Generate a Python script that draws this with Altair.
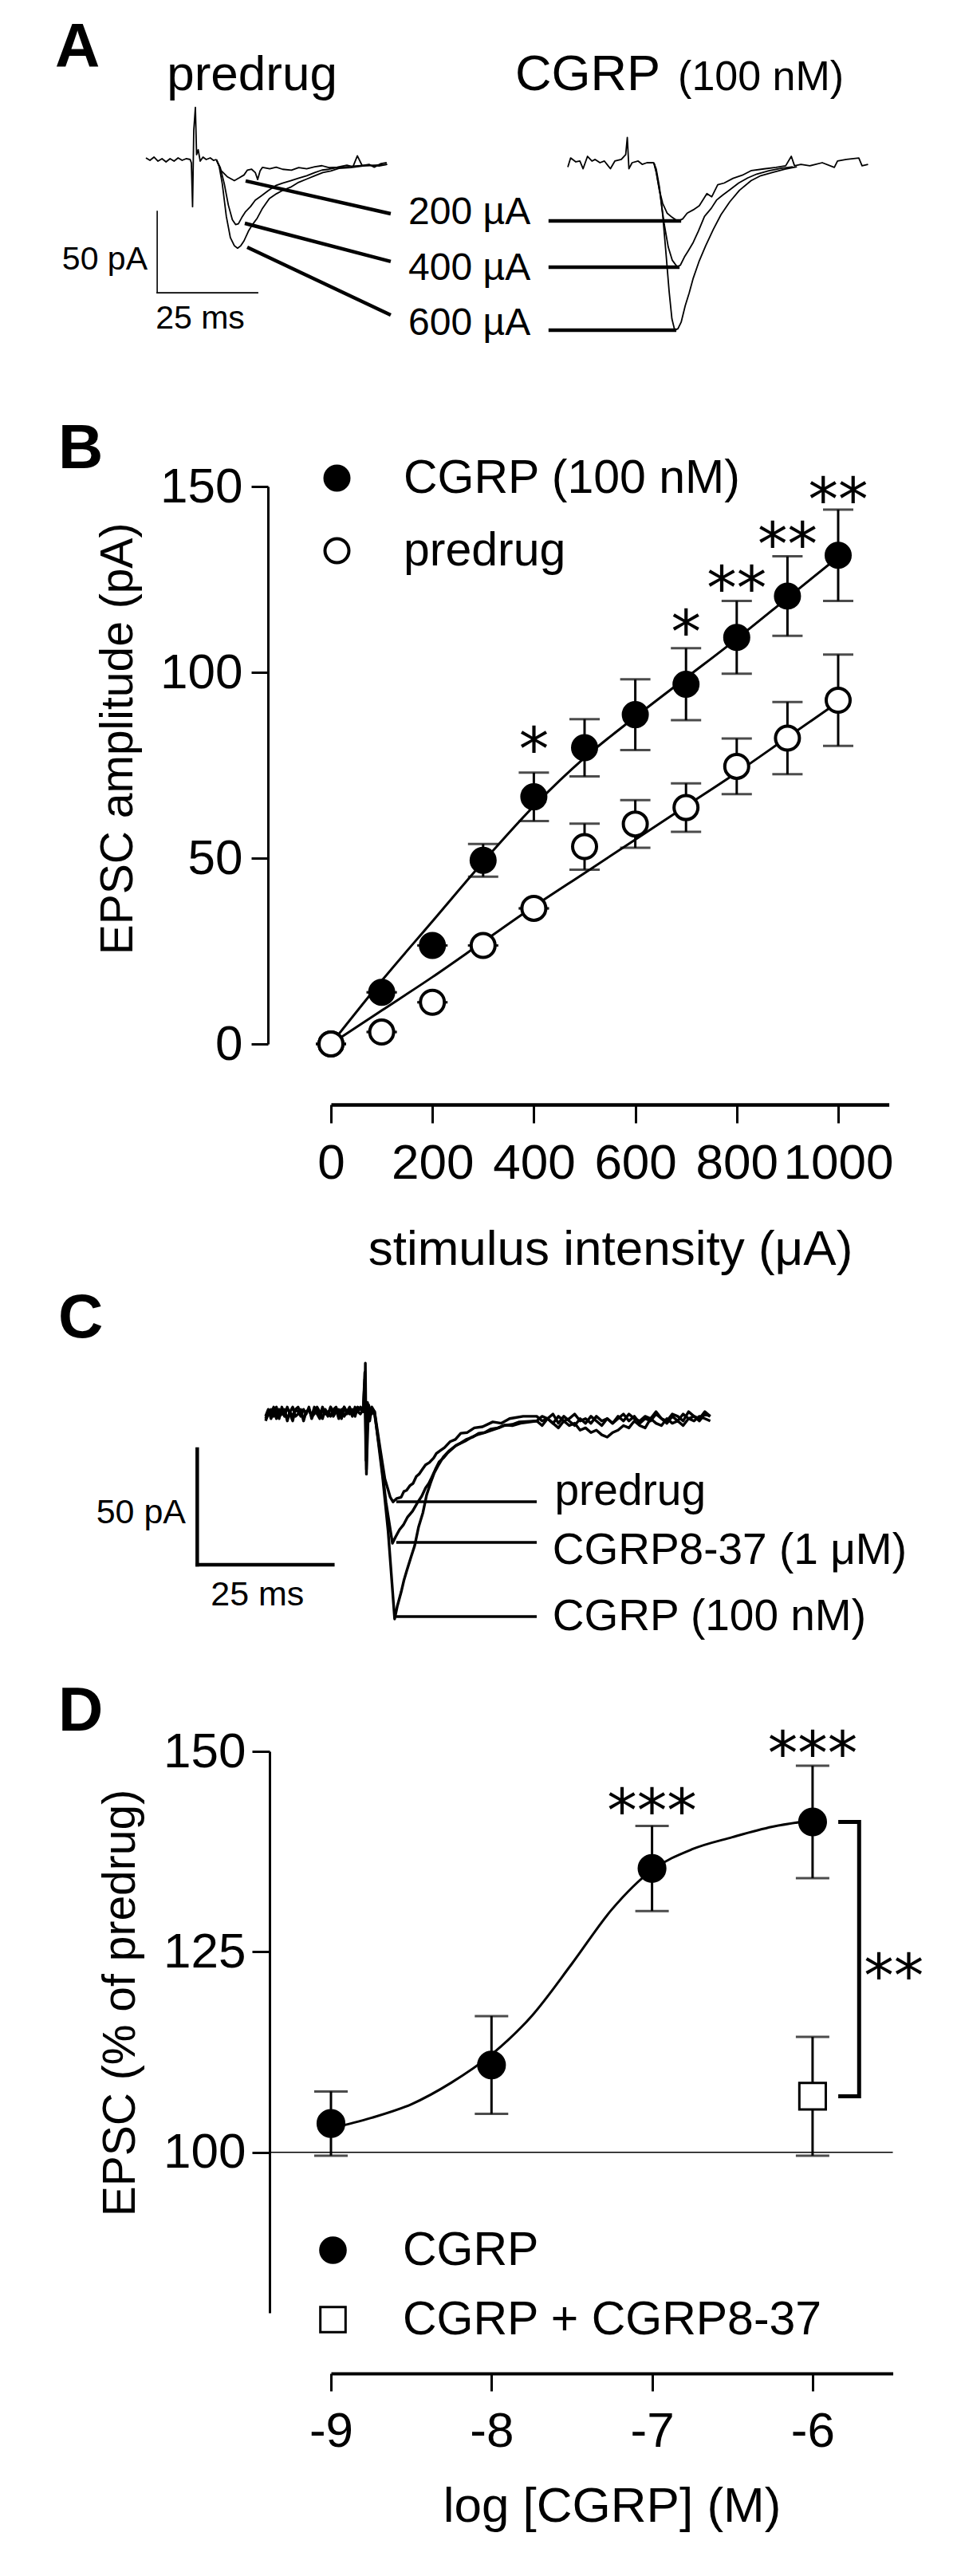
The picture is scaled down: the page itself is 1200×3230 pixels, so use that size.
import altair as alt
import pandas as pd

FONT = "Liberation Sans, Arial, Helvetica, sans-serif"
STAR = "DejaVu Sans, Liberation Sans, sans-serif"

W = 1184
H_A, H_B, H_C, H_D = 452, 1140, 500, 1122

# ---------------- Panel A: example traces (ms, pA) ----------------
A_LEFT_BASE = [(0, 1), (1, -0.5), (2, 1.5), (3, -1), (4, 0.5), (5, -1.5), (6, 0.5), (7, -1), (8, 1),
               (9, -0.5), (10, 0.5), (11, 0), (11.3, -2), (11.6, -29), (11.9, 18), (12.3, 32), (12.6, 3),
               (13.0, 6), (13.5, -1), (14.2, 1.5), (15, 0), (16, 1), (16.8, -0.5), (17.5, 0)]
A_LEFT_200 = [(17.5, 0), (18.6, -6.5), (20.2, -10.5), (22, -13), (23.2, -11.3), (24.4, -9.5), (25.2, -6.6),
              (26.3, -6), (27.2, -8), (27.8, -12.3), (28.4, -7), (29, -4.8), (30.8, -5.7), (32.4, -4.7),
              (34, -6), (36.2, -6.6), (38, -5), (40, -5.7), (42, -4.5), (43.8, -3.8), (45.5, -5),
              (47.6, -4.7), (50, -3.5), (51.5, -4.5), (52.6, 2.3), (53.8, -3.8), (55.5, -3), (56.8, -4.7),
              (58.5, -2.5), (59.9, -1.9)]
A_LEFT_400 = [(17.5, 0), (18.5, -5), (19.5, -15), (20.5, -28), (21.5, -37), (22.3, -40), (23, -39.5),
              (24, -35), (24.8, -32), (26, -29), (27.2, -25), (28.6, -22.5), (30.5, -19), (32.3, -16),
              (34, -14.5), (36, -13), (38, -11.5), (40, -10), (42, -8), (43.8, -6.5), (45.5, -6),
              (47.6, -5), (50, -4.5), (52, -4), (55, -3.5), (58, -4), (60, -3)]
A_LEFT_600 = [(17.5, 0), (18.2, -4), (19, -15), (20, -35), (21, -48), (22, -53), (22.8, -54.5),
              (23.6, -53), (24.4, -50), (25.5, -44), (26.5, -40), (27.7, -36), (29, -30), (30.7, -24),
              (32.5, -21), (34, -19), (36, -17), (38, -14), (40, -12), (42, -10), (44, -8), (46, -7),
              (48, -5.5), (51, -5), (54, -4), (57, -3.5), (60, -3)]
A_RIGHT_BASE = [(0, -2.7), (0.7, 2.9), (2, 0.5), (3, 1), (3.8, -3.7), (4.9, 3.9), (6, 1), (6.8, 2), (8, 0),
                (9.1, 1), (10.6, -3.7), (11.7, 1), (13.3, 2), (14.4, 5), (14.8, 15.5), (15.2, -3.7),
                (16, 0), (17.5, 1), (18.5, -1), (19.7, 0), (21.4, 0)]
A_RIGHT_200 = [(21.4, 0), (22, -5.5), (22.8, -17), (23.6, -25), (24.7, -31), (25.9, -33.5), (27.4, -36),
               (28.6, -34.5), (29.7, -31), (31.2, -29), (32.7, -26.5), (34.6, -19), (35.8, -21),
               (37.3, -13.5), (38.9, -12.5), (41.1, -9.6), (43.4, -7.7), (45.7, -4.8), (48.8, -3.8),
               (51.8, -2.9), (54.2, -1.9), (55.6, 3.9), (56.4, -1.9), (58, -1), (60.2, -1.9), (63.3, 0),
               (66.3, -2.9), (67.1, 1), (69.3, 2), (72.4, 2.9), (73.2, -1.9), (74.7, -1)]
A_RIGHT_400 = [(21.4, 0), (22, -6), (23, -20), (24, -38), (25, -52), (26, -60), (27.2, -64), (28, -63),
               (29, -58), (30, -54), (31.2, -49), (32.5, -42), (34, -33), (35.7, -28), (37, -23),
               (38.5, -20), (40.3, -16.7), (42.5, -12.5), (44.8, -9.3), (47, -7), (50, -5), (53, -3.5),
               (56, -2.5)]
A_RIGHT_600 = [(21.4, 0), (22, -4), (22.8, -15), (23.6, -32), (24.4, -55), (25.2, -79), (25.9, -96),
               (26.6, -103), (27.4, -102), (28.2, -98), (29.2, -88), (30.2, -80), (31.2, -71),
               (32.6, -61), (34.3, -51), (36.2, -41), (38.1, -32), (40.3, -24), (42.7, -17),
               (45.6, -11), (48, -8), (51, -6), (54, -4), (57, -2.5)]
A_LEFT_CONN = [(24.8, -13.2, 60.9, -33.3), (24.6, -39.2, 60.9, -62.7), (25.2, -53.9, 60.9, -95.6)]
A_RIGHT_CONN = [(-4.8, -35.8, 28.2, -35.8), (-4.8, -64.2, 27.8, -64.2), (-4.8, -103.0, 27.0, -103.0)]
A_STIM_LABELS = ["200 µA", "400 µA", "600 µA"]
A_STIM_LABEL_T = [65.3, 65.3, 65.3]
A_STIM_LABEL_PA = [-32.8, -67.2, -101.0]
A_SCALEBAR_CORNER = (2.8, -81.9)
SB_MS, SB_PA = 25, 50

# ---------------- Panel B ----------------
B_STIM = [0, 100, 200, 300, 400, 500, 600, 700, 800, 900, 1000]
B_CGRP_MEAN = [0, 13.9, 26.5, 49.4, 66.5, 79.7, 88.6, 96.8, 109.4, 120.5, 131.5]
B_CGRP_SEM = [0, 0, 0, 4.4, 6.5, 7.7, 9.5, 9.7, 9.8, 10.7, 12.3]
B_PRE_MEAN = [0, 3.2, 11.2, 26.5, 36.5, 53.1, 59.2, 63.6, 74.7, 82.3, 92.5]
B_PRE_SEM = [0, 0, 0, 0, 0, 6.2, 6.4, 6.5, 7.5, 9.7, 12.3]
B_FIT_CGRP = [0, 17, 33, 49, 64, 77, 88, 98.5, 109, 120, 131]
B_FIT_PRE = [0, 9, 18, 27.5, 37, 46, 55, 64, 73, 82.5, 92]
B_STAR_X = [400, 700, 800, 900, 1000]
B_STAR_Y = [82.6, 114.2, 126.0, 137.8, 149.7]
B_STAR_TXT = ["*", "*", "**", "**", "**"]
B_GROUPS = ["CGRP (100 nM)", "predrug"]

# ---------------- Panel C: traces (ms, pA) ----------------
C_PRE_T = [i * 0.5 for i in range(37)]          # 0 .. 18 ms sample times
C_PREDRUG_PRE = [-3, 0, 2, -1, 1, -2, 3, 0, -2, 1, 3, -1, 0, 2, -3, 1, 2, -1, 3, 0, -2, 2, 1, -1, 3, 0,
                 2, -2, 1, 3, 0, 2, -1, 3, 1, 0, 2]
C_ANTAG_PRE = [-1, 2, -2, 1, 3, -1, 0, 2, -3, 1, -1, 2, 3, 0, -2, 1, 2, -1, 0, 3, 1, -2, 2, 0, 3, -1,
               1, 2, -2, 3, 1, 0, 2, -1, 3, 2, 1]
C_CGRP_PRE = [-2, 1, 0, 3, -2, 2, 1, -1, 3, 0, -3, 2, 1, -1, 2, 0, 3, -2, 1, 2, -1, 3, 0, 1, -1, 2, 3,
              0, 2, -1, 1, 3, 0, 2, 1, 3, 2]
C_PREDRUG_EPSC = [(18.3, 1), (18.4, 22), (18.6, -26), (18.8, 5), (19.2, -3), (19.6, 3), (20.1, 1),
                  (21.2, -16), (22, -28), (23, -36), (23.5, -38), (24.2, -36.5), (25, -36), (25.5, -33.5),
                  (26, -33), (26.6, -31), (27.2, -30), (27.8, -27), (28.3, -26), (28.9, -24), (29.5, -22),
                  (30.2, -21), (31, -19), (31.5, -17), (32, -16.2), (33, -14.5), (34, -12), (35, -11),
                  (36, -8.3), (37.2, -8), (38.5, -6), (40, -5.5), (41.9, -3.4), (43.5, -4), (45, -2),
                  (47.5, -1)]
C_ANTAG_EPSC = [(18.3, 18), (18.5, -20), (18.9, 2), (19.5, 2), (20.1, 0), (21.2, -18), (22.2, -38),
                (23, -50), (23.4, -55.9), (24, -53), (24.7, -50), (25.4, -48), (26.2, -44.5), (27.1, -42),
                (28.1, -38), (28.8, -35.5), (29.5, -32), (30.1, -30), (30.6, -27.6), (31.3, -24),
                (32, -20.7), (32.8, -19), (33.5, -17), (34.2, -15.5), (35, -13.8), (36, -12.5), (37, -11),
                (38.2, -10), (39.3, -8.3), (40.4, -8), (41.5, -6.5), (42.8, -6), (44.1, -4.8), (45.5, -5),
                (47, -4)]
C_CGRP_EPSC = [(18.3, 15), (18.6, -24), (19, 4), (19.5, 0), (20.1, 1), (21.6, -27.6), (22.6, -50.7),
               (23.8, -88.6), (24.3, -83), (25, -77), (25.5, -72), (26, -68), (26.8, -62), (27.5, -56.9),
               (28.2, -49), (29, -42.8), (29.7, -35), (30.4, -30), (31.1, -25.5), (31.9, -22),
               (32.8, -18.5), (33.8, -16), (35.2, -13.5), (36.8, -11.7), (38, -10), (39, -9),
               (40.5, -8), (41.9, -6.9), (43, -6), (44, -5), (45.5, -4.5), (46.8, -3.4)]
C_POST_T = list(range(50, 83))                    # 50 .. 82 ms sample times
C_PREDRUG_POST = [-1, -3, -2, 0, -4, -1, -3, -5, -2, -4, -1, -3, -5, -2, -4, -2, 0, -3, -1, -4, -2, -3,
                  0, -2, -4, -1, -3, 0, -2, -1, -3, 0, -1]
C_ANTAG_POST = [-3, -5, -2, -4, -6, -3, -5, -4, -7, -6, -8, -7, -9, -10, -8, -7, -5, -6, -3, -5, -6, -2,
                -4, -5, -2, -4, -3, -5, -2, -3, -1, -2, -3]
C_CGRP_POST = [-3, -1, -2, -4, -1, -3, -2, 0, -3, -2, -4, -1, -3, -2, -4, -1, -3, 0, -2, -3, -1, -2, 1,
               -2, -3, 0, -1, -3, 1, -1, -2, 1, -1]
C_CONN = [(24.1, -37.9, 50.0, -37.9), (24.1, -55.5, 50.0, -55.5), (24.1, -87.6, 50.0, -87.6)]
C_LABELS = ["predrug", "CGRP8-37 (1 μM)", "CGRP (100 nM)"]
C_LABEL_T = [53.3, 52.9, 52.9]
C_LABEL_PA = [-39.3, -64.8, -93.4]
C_SCALEBAR_CORNER = (-12.6, -65.2)

# ---------------- Panel D ----------------
D_LOG = [-9, -8, -7, -6]
D_CGRP_MEAN = [103.6, 110.9, 135.4, 141.2]
D_CGRP_SEM = [4.0, 6.1, 5.3, 7.0]
D_ANT_LOG = [-6]
D_ANT_MEAN = [107.0]
D_ANT_SEM = [7.4]
D_FIT_LOG = [-9, -8.75, -8.5, -8.25, -8, -7.75, -7.5, -7.25, -7, -6.75, -6.5, -6.25, -6]
D_FIT_VAL = [103, 104.3, 106, 108.7, 112.2, 117, 123.5, 130.3, 135.2, 137.8, 139.3, 140.6, 141.4]
D_STAR_X = [-7, -6]
D_STAR_Y = [144.1, 151.3]
D_STAR_TXT = ["***", "***"]
D_BRACKET_X = [-5.84, -5.71, -5.71, -5.84]
D_BRACKET_Y = [141.2, 141.2, 107.0, 107.0]
D_BRACKET_STAR = (-5.68, 123.6, "**")
D_GROUPS = ["CGRP", "CGRP + CGRP8-37"]


# ---------------- helpers ----------------
def traces(named):
    frames = []
    for name, pts in named.items():
        d = pd.DataFrame(pts, columns=["t", "pA"])
        d["trace"] = name
        d["i"] = range(len(d))
        frames.append(d)
    return pd.concat(frames, ignore_index=True)


def scale(domain, rng):
    return alt.Scale(domain=domain, range=rng, nice=False, zero=False)


def letter(ch, x, y):
    return alt.Chart(pd.DataFrame({"txt": [ch]})).mark_text(
        font=FONT, fontSize=78, fontWeight="bold", align="left", baseline="alphabetic", color="black"
    ).encode(x=alt.value(x), y=alt.value(y), text="txt:N")


def scalebar(corner, sx, sy, width):
    t0, p0 = corner
    d = pd.DataFrame({"t": [t0, t0], "pA": [p0, p0], "t2": [t0, t0 + SB_MS], "pA2": [p0 + SB_PA, p0]})
    return alt.Chart(d).mark_rule(color="black", strokeWidth=width, strokeCap="square").encode(
        x=alt.X("t:Q", scale=sx, axis=None), y=alt.Y("pA:Q", scale=sy, axis=None), x2="t2:Q", y2="pA2:Q")


def leaders(rows, sx, sy, width):
    d = pd.DataFrame(rows, columns=["t", "pA", "t2", "pA2"])
    return alt.Chart(d).mark_rule(color="black", strokeWidth=width).encode(
        x=alt.X("t:Q", scale=sx, axis=None), y=alt.Y("pA:Q", scale=sy, axis=None), x2="t2:Q", y2="pA2:Q")


def texts(ts, ps, labels, sx, sy, size, align="left", baseline="middle", font=FONT):
    d = pd.DataFrame({"t": ts, "pA": ps, "txt": labels})
    return alt.Chart(d).mark_text(font=font, fontSize=size, align=align, baseline=baseline,
                                  color="black").encode(
        x=alt.X("t:Q", scale=sx, axis=None), y=alt.Y("pA:Q", scale=sy, axis=None), text="txt:N")


def trace_lines(named, sx, sy, width):
    return alt.Chart(traces(named)).mark_line(color="black", strokeWidth=width, strokeJoin="round").encode(
        x=alt.X("t:Q", scale=sx, axis=None), y=alt.Y("pA:Q", scale=sy, axis=None),
        detail="trace:N", order="i:Q")


def c_trace(pre, epsc, post):
    return list(zip(C_PRE_T, pre)) + epsc + list(zip(C_POST_T, post))


# ---------------- Panel A chart ----------------
sAxL = scale([0, 60], [175, 175 + 60 * 5.04])
sAyL = scale([-100, 50], [192 + 100 * 2.04, 192 - 50 * 2.04])
sAxR = scale([0, 76], [704, 704 + 76 * 5.04])
sAyR = scale([-100, 50], [196 + 100 * 2.04, 196 - 50 * 2.04])

A_left = alt.layer(
    trace_lines({"base": A_LEFT_BASE, "200": A_LEFT_200, "400": A_LEFT_400, "600": A_LEFT_600}, sAxL, sAyL, 1.8),
    leaders(A_LEFT_CONN, sAxL, sAyL, 4.5),
    scalebar(A_SCALEBAR_CORNER, sAxL, sAyL, 1.6),
    texts(A_STIM_LABEL_T, A_STIM_LABEL_PA, A_STIM_LABELS, sAxL, sAyL, 48),
    texts([26.4], [42.6], ["predrug"], sAxL, sAyL, 62, align="center", baseline="alphabetic"),
    texts([0.4], [-62.0], ["50 pA"], sAxL, sAyL, 41, align="right"),
    texts([13.5], [-98.0], ["25 ms"], sAxL, sAyL, 41, align="center"),
)
A_right = alt.layer(
    trace_lines({"base": A_RIGHT_BASE, "200": A_RIGHT_200, "400": A_RIGHT_400, "600": A_RIGHT_600}, sAxR, sAyR, 1.8),
    leaders(A_RIGHT_CONN, sAxR, sAyR, 4.5),
    texts([-13.1], [44.6], ["CGRP"], sAxR, sAyR, 63, baseline="alphabetic"),
    texts([27.4], [44.6], ["(100 nM)"], sAxR, sAyR, 52, baseline="alphabetic"),
)
panelA = alt.layer(A_left, A_right, letter("A", 61, 76)).resolve_scale(
    x="independent", y="independent").properties(width=W, height=H_A)

# ---------------- Panel B chart ----------------
sBx = scale([0, 1100], [407, 407 + 1100 * 0.636])
sBy = scale([0, 150], [849, 150])
axBx = alt.Axis(orient="bottom", values=[0, 200, 400, 600, 800, 1000], format="d", offset=-215, grid=False,
                domainColor="black", domainWidth=4.5, tickColor="black", tickWidth=3, tickSize=23,
                labelFont=FONT, labelFontSize=62, labelColor="black", labelPadding=69,
                labelBaseline="alphabetic", labelFlush=False, labelOverlap=False, labelBound=False,
                labelLimit=1000, title="stimulus intensity (μA)", titleFont=FONT, titleFontSize=62,
                titleFontWeight="normal", titleColor="black", titleX=757, titleY=200,
                titleBaseline="alphabetic", titleAlign="center", titleLimit=2000)
axBy = alt.Axis(orient="left", values=[0, 50, 100, 150], format="d", offset=-328, grid=False,
                domainColor="black", domainWidth=3, tickColor="black", tickWidth=3, tickSize=21,
                labelFont=FONT, labelFontSize=62, labelColor="black", labelPadding=11,
                labelFlush=False, labelOverlap=False, labelBound=False, labelLimit=1000,
                title="EPSC amplitude (pA)", titleFont=FONT, titleFontSize=57, titleFontWeight="normal",
                titleColor="black", titleX=-171, titleY=466, titleBaseline="alphabetic", titleAngle=270,
                titleAlign="center", titleLimit=2000)


def BX(f):
    return alt.X(f, type="quantitative", scale=sBx, axis=axBx)


def BY(f):
    return alt.Y(f, type="quantitative", scale=sBy, axis=axBy)


b = pd.DataFrame({"x": B_STIM * 2, "y": B_CGRP_MEAN + B_PRE_MEAN, "sem": B_CGRP_SEM + B_PRE_SEM,
                  "grpB": [B_GROUPS[0]] * len(B_STIM) + [B_GROUPS[1]] * len(B_STIM)})
b["lo"] = b["y"] - b["sem"]
b["hi"] = b["y"] + b["sem"]
b_caps = pd.DataFrame({"x": list(b["x"]) * 2, "cap": list(b["lo"]) + list(b["hi"])})
b_fit = pd.DataFrame({"x": B_STIM * 2, "y": B_FIT_CGRP + B_FIT_PRE,
                      "grpB": [B_GROUPS[0]] * len(B_STIM) + [B_GROUPS[1]] * len(B_STIM)})
b_star = pd.DataFrame({"x": B_STAR_X, "y": B_STAR_Y, "txt": B_STAR_TXT})

B_err = alt.Chart(b).mark_rule(color="black", strokeWidth=3).encode(x=BX("x"), y=BY("lo"), y2="hi:Q")
B_cap = alt.Chart(b_caps).mark_tick(color="black", orient="horizontal", size=38, thickness=3).encode(
    x=BX("x"), y=BY("cap"))
B_fitl = alt.Chart(b_fit).mark_line(color="black", strokeWidth=3, interpolate="monotone").encode(
    x=BX("x"), y=BY("y"), detail="grpB:N")
B_pts = alt.Chart(b).mark_point(filled=True, size=900, stroke="black", strokeWidth=4, opacity=1,
                                shape="circle").encode(
    x=BX("x"), y=BY("y"),
    fill=alt.Fill("grpB:N", scale=alt.Scale(domain=B_GROUPS, range=["black", "white"]),
                  legend=alt.Legend(title=None, orient="none", legendX=385, legendY=110, direction="vertical",
                                    padding=0, symbolType="circle", symbolSize=900, symbolStrokeColor="black",
                                    symbolStrokeWidth=4, labelFont=FONT, labelFontSize=59,
                                    labelColor="black", labelOffset=54, rowPadding=31, labelLimit=1000)))
B_stars = alt.Chart(b_star).mark_text(font=STAR, fontSize=75, align="center", baseline="alphabetic",
                                      dy=41, color="black").encode(x=BX("x"), y=BY("y"), text="txt:N")
panelB = alt.layer(B_err, B_cap, B_fitl, B_pts, B_stars, letter("B", 65, 127)).properties(width=W, height=H_B)

# ---------------- Panel C chart ----------------
sCx = scale([-20, 90], [325 - 20 * 6.8, 325 + 90 * 6.8])
sCy = scale([-100, 30], [173 + 100 * 2.9, 173 - 30 * 2.9])
panelC = alt.layer(
    trace_lines({"predrug": c_trace(C_PREDRUG_PRE, C_PREDRUG_EPSC, C_PREDRUG_POST),
                 "antag": c_trace(C_ANTAG_PRE, C_ANTAG_EPSC, C_ANTAG_POST),
                 "cgrp": c_trace(C_CGRP_PRE, C_CGRP_EPSC, C_CGRP_POST)}, sCx, sCy, 3.4),
    leaders(C_CONN, sCx, sCy, 3.5),
    scalebar(C_SCALEBAR_CORNER, sCx, sCy, 4.5),
    texts(C_LABEL_T, C_LABEL_PA, C_LABELS, sCx, sCy, 55, baseline="alphabetic"),
    texts([-14.7], [-42.8], ["50 pA"], sCx, sCy, 43, align="right"),
    texts([-1.5], [-78.3], ["25 ms"], sCx, sCy, 43, align="center"),
    letter("C", 65, 77),
).properties(width=W, height=H_C)

# ---------------- Panel D chart ----------------
D_PX = 201.3
sDx = scale([-9, -5.5], [407, 407 + 3.5 * D_PX])
sDy = scale([80, 150], [800, 96])
axDx = alt.Axis(orient="bottom", values=[-9, -8, -7, -6], labelExpr="'' + datum.value", offset=-246,
                grid=False, domainColor="black", domainWidth=4, tickColor="black", tickWidth=3, tickSize=22,
                labelFont=FONT, labelFontSize=62, labelColor="black", labelPadding=69,
                labelBaseline="alphabetic", labelFlush=False, labelOverlap=False, labelBound=False,
                labelLimit=1000, title="log [CGRP] (M)", titleFont=FONT, titleFontSize=62,
                titleFontWeight="normal", titleColor="black", titleX=759, titleY=185,
                titleBaseline="alphabetic", titleAlign="center", titleLimit=2000)
axDy = alt.Axis(orient="left", values=[100, 125, 150], format="d", offset=-330, grid=False,
                domainColor="black", domainWidth=3, tickColor="black", tickWidth=3, tickSize=22,
                labelFont=FONT, labelFontSize=62, labelColor="black", labelPadding=8,
                labelFlush=False, labelOverlap=False, labelBound=False, labelLimit=1000,
                title="EPSC (% of predrug)", titleFont=FONT, titleFontSize=57, titleFontWeight="normal",
                titleColor="black", titleX=-170, titleY=411, titleBaseline="alphabetic", titleAngle=270,
                titleAlign="center", titleLimit=2000)


def DX(f):
    return alt.X(f, type="quantitative", scale=sDx, axis=axDx)


def DY(f):
    return alt.Y(f, type="quantitative", scale=sDy, axis=axDy)


d = pd.DataFrame({"x": D_LOG + D_ANT_LOG, "y": D_CGRP_MEAN + D_ANT_MEAN, "sem": D_CGRP_SEM + D_ANT_SEM,
                  "grpD": [D_GROUPS[0]] * len(D_LOG) + [D_GROUPS[1]] * len(D_ANT_LOG)})
d["lo"] = d["y"] - d["sem"]
d["hi"] = d["y"] + d["sem"]
d_caps = pd.DataFrame({"x": list(d["x"]) * 2, "cap": list(d["lo"]) + list(d["hi"])})
d_fit = pd.DataFrame({"x": D_FIT_LOG, "y": D_FIT_VAL})
d_star = pd.DataFrame({"x": D_STAR_X, "y": D_STAR_Y, "txt": D_STAR_TXT})
d_br = pd.DataFrame({"x": D_BRACKET_X, "y": D_BRACKET_Y, "i": range(len(D_BRACKET_X))})
y_axis_x = -9 - 77 / D_PX
d_ref = pd.DataFrame({"x": [y_axis_x], "x2": [-5.5], "y": [100]})

D_legend = alt.Legend(title=None, orient="none", legendX=380, legendY=692, direction="vertical",
                      padding=0, symbolSize=1000, symbolStrokeColor="black",
                      symbolStrokeWidth=3, labelFont=FONT, labelFontSize=59,
                      labelColor="black", labelOffset=58, rowPadding=27, labelLimit=1000)

D_ref = alt.Chart(d_ref).mark_rule(color="black", strokeWidth=1.5).encode(x=DX("x"), x2="x2:Q", y=DY("y"))
D_err = alt.Chart(d).mark_rule(color="black", strokeWidth=3).encode(x=DX("x"), y=DY("lo"), y2="hi:Q")
D_cap = alt.Chart(d_caps).mark_tick(color="black", orient="horizontal", size=42, thickness=3).encode(
    x=DX("x"), y=DY("cap"))
D_fitl = alt.Chart(d_fit).mark_line(color="black", strokeWidth=3, interpolate="monotone").encode(
    x=DX("x"), y=DY("y"))
D_brk = alt.Chart(d_br).mark_line(color="black", strokeWidth=5, strokeJoin="miter").encode(
    x=DX("x"), y=DY("y"), order="i:Q")
D_pts = alt.Chart(d).mark_point(filled=True, size=1100, strokeWidth=3, opacity=1).encode(
    x=DX("x"), y=DY("y"),
    fill=alt.Fill("grpD:N", scale=alt.Scale(domain=D_GROUPS, range=["black", "white"]), legend=D_legend),
    stroke=alt.Stroke("grpD:N", scale=alt.Scale(domain=D_GROUPS, range=["black", "black"]), legend=D_legend),
    shape=alt.Shape("grpD:N", scale=alt.Scale(domain=D_GROUPS, range=["circle", "square"]), legend=D_legend))
D_stars = alt.Chart(d_star).mark_text(font=STAR, fontSize=75, align="center", baseline="alphabetic",
                                      dy=41, color="black").encode(x=DX("x"), y=DY("y"), text="txt:N")
D_bstar = alt.Chart(pd.DataFrame({"x": [D_BRACKET_STAR[0]], "y": [D_BRACKET_STAR[1]],
                                  "txt": [D_BRACKET_STAR[2]]})).mark_text(
    font=STAR, fontSize=75, align="left", baseline="alphabetic", dy=41, color="black").encode(
    x=DX("x"), y=DY("y"), text="txt:N")
panelD = alt.layer(D_ref, D_err, D_cap, D_fitl, D_brk, D_pts, D_stars, D_bstar,
                   letter("D", 65, 70)).properties(width=W, height=H_D)

chart = alt.vconcat(panelA, panelB, panelC, panelD, spacing=0).resolve_scale(
    fill="independent", shape="independent", stroke="independent").resolve_legend(
    fill="independent", shape="independent", stroke="independent").properties(
    padding=0, background="white").configure_view(stroke=None)

chart.save("out.html", embed_options={"renderer": "svg", "actions": False})
